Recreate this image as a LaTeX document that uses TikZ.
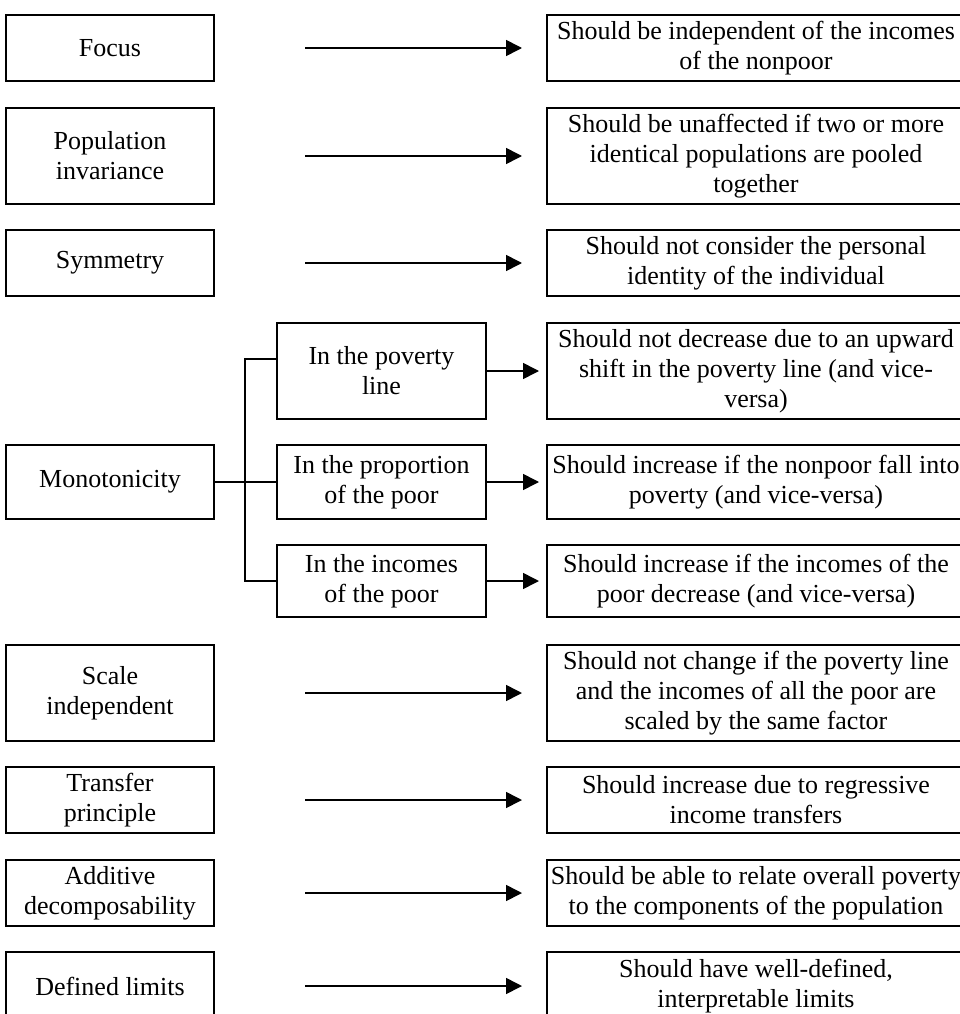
\documentclass[tikz,border=0pt]{standalone}
\usepackage{fontspec}
\setmainfont{Liberation Serif}
\usetikzlibrary{arrows.meta}
\begin{document}
\begin{tikzpicture}[x=1pt,y=-1pt,
  every node/.style={font=\fontsize{26}{30}\selectfont, align=center, inner sep=0pt},
  lbox/.style={draw, line width=2pt, minimum width=208pt},
  sbox/.style={draw, line width=2pt, minimum width=209pt},
  rbox/.style={draw, line width=2pt, minimum width=418pt},
  arr/.style={line width=1.6pt, -{Triangle[length=16pt,width=16pt]}},
  link/.style={line width=2pt}]
\useasboundingbox (0,0) rectangle (960,1014);
\clip (0,0) rectangle (960,1014);
% left boxes
\node[lbox, minimum height=66pt] (l1) at (110,48) {Focus};
\node[lbox, minimum height=96pt] (l2) at (110,156) {Population\\invariance};
\node[lbox, minimum height=66pt] (l3) at (110,263) {Symmetry};
\node[lbox, minimum height=74pt] (l4) at (110,482) {Monotonicity};
\node[lbox, minimum height=96pt] (l5) at (110,693) {Scale\\independent};
\node[lbox, minimum height=66pt] (l6) at (110,800) {Transfer\\principle};
\node[lbox, minimum height=66pt] (l7) at (110,893) {Additive\\decomposability};
\node[lbox, minimum height=68pt] (l8) at (110,986) {Defined limits};
% sub boxes
\node[sbox, minimum height=96pt] (s1) at (381.5,371) {In the poverty\\line};
\node[sbox, minimum height=74pt] (s2) at (381.5,482) {In the proportion\\of the poor};
\node[sbox, minimum height=72pt] (s3) at (381.5,581) {In the incomes\\of the poor};
% right boxes
\node[rbox, minimum height=66pt] (r1) at (756,48) {Should be independent of the incomes\\of the nonpoor};
\node[rbox, minimum height=96pt] (r2) at (756,156) {Should be unaffected if two or more\\identical populations are pooled\\together};
\node[rbox, minimum height=66pt] (r3) at (756,263) {Should not consider the personal\\identity of the individual};
\node[rbox, minimum height=96pt] (m1) at (756,371) {Should not decrease due to an upward\\shift in the poverty line (and vice-\\versa)};
\node[rbox, minimum height=74pt] (m2) at (756,482) {Should increase if the nonpoor fall into\\poverty (and vice-versa)};
\node[rbox, minimum height=72pt] (m3) at (756,581) {Should increase if the incomes of the\\poor decrease (and vice-versa)};
\node[rbox, minimum height=96pt] (r5) at (756,693) {Should not change if the poverty line\\and the incomes of all the poor are\\scaled by the same factor};
\node[rbox, minimum height=66pt] (r6) at (756,800) {Should increase due to regressive\\income transfers};
\node[rbox, minimum height=66pt] (r7) at (756,893) {Should be able to relate overall poverty\\to the components of the population};
\node[rbox, minimum height=68pt] (r8) at (756,986) {Should have well-defined,\\interpretable limits};
% long arrows
\foreach \a/\b in {l1/r1,l2/r2,l3/r3,l5/r5,l6/r6,l7/r7,l8/r8}
  \draw[arr, shorten <=90pt, shorten >=24pt] (\a.east) -- (\b.west);
% branch
\coordinate (bt) at ([yshift=12pt]s1.west);
\draw[link] (l4.east) -- (s2.west);
\draw[link] (bt) -- ++(-31,0) |- (s3.west);
% short arrows
\draw[arr, shorten >=7pt] (s1.east) -- (m1.west);
\draw[arr, shorten >=7pt] (s2.east) -- (m2.west);
\draw[arr, shorten >=7pt] (s3.east) -- (m3.west);
\end{tikzpicture}
\end{document}
